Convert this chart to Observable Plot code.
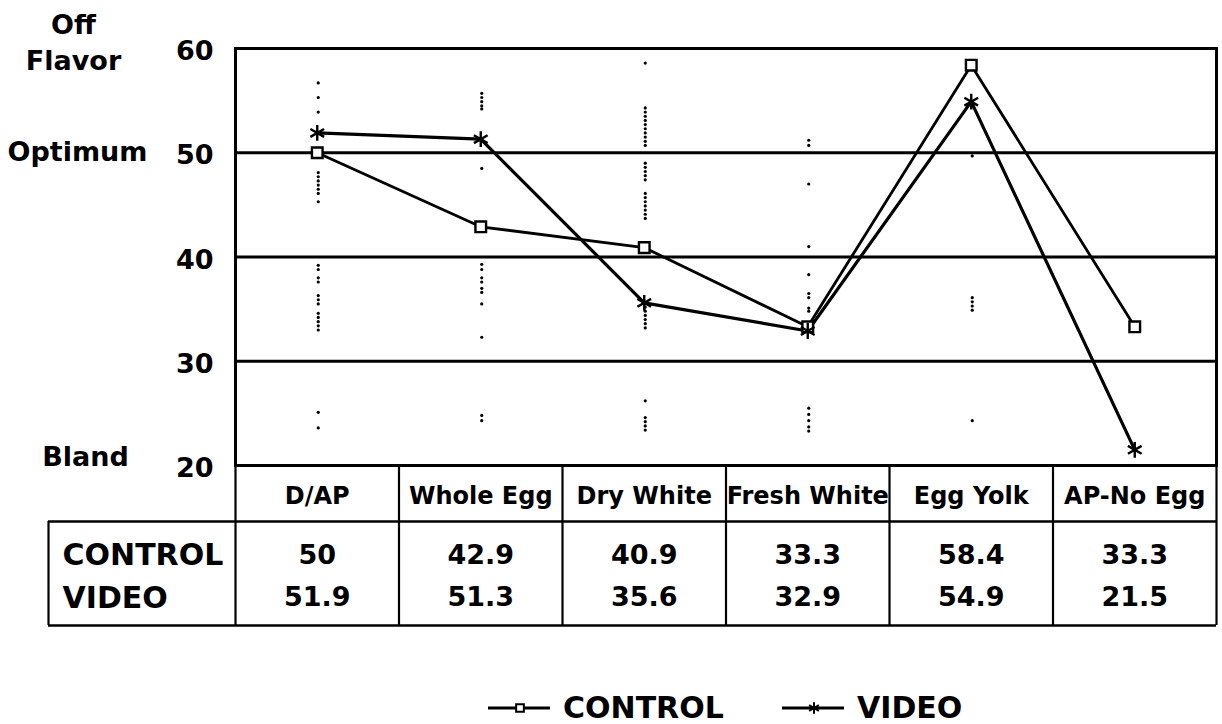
<!DOCTYPE html>
<html>
<head>
<meta charset="utf-8">
<script src="https://cdn.jsdelivr.net/npm/d3@7"></script>
<script src="https://cdn.jsdelivr.net/npm/@observablehq/plot@0.6"></script>
<style>
  html, body { margin: 0; padding: 0; background: #fff; }
  #chart { position: relative; width: 1222px; height: 724px; font-family: "DejaVu Sans", sans-serif; }
  #chart svg.plot, #chart > svg { position: absolute; left: 0; top: 0; }
  .legend-item { position: absolute; top: 693px; height: 30px; display: flex; align-items: center; }
  .legend-item svg { display: block; }
  .legend-item span { font: bold 30px "DejaVu Sans", sans-serif; line-height: 30px; margin-left: 13px; color: #000; }
</style>
</head>
<body>
<div id="chart"></div>
<script>
// ---------- data ----------
const categories = ["D/AP", "Whole Egg", "Dry White", "Fresh White", "Egg Yolk", "AP-No Egg"];
const controlValues = [50, 42.9, 40.9, 33.3, 58.4, 33.3];
const videoValues = [51.9, 51.3, 35.6, 32.9, 54.9, 21.5];
const seriesNames = ["CONTROL", "VIDEO"];
const seriesSymbols = ["square", "asterisk"];
const yTicks = [20, 30, 40, 50, 60];
const gridValues = [30, 40, 50];
const scaleWords = ["Off\nFlavor", "Optimum", "Bland"];
const scaleWordValues = [60, 50, 20];

// individual panel ratings (small dotted marks)
const scoresDAP = [56.7, 55.3, 53.9, 48.1, 47.7, 47.3, 46.9, 46.5, 46.1, 45.3, 39.2, 38.8, 38.0, 37.6, 36.3, 35.9, 35.5, 34.6, 34.2, 33.8, 33.4, 33.0, 25.1, 23.6];
const scoresWholeEgg = [55.7, 55.3, 54.9, 54.5, 54.2, 48.5, 39.3, 38.8, 38.0, 37.6, 37.0, 36.6, 35.5, 32.3, 24.8, 24.3];
const scoresDryWhite = [58.6, 54.3, 53.9, 53.5, 53.1, 52.7, 52.3, 51.9, 51.5, 51.1, 50.7, 49.0, 48.6, 48.2, 47.8, 47.4, 46.1, 45.7, 45.3, 44.9, 44.5, 44.1, 43.7, 35.2, 34.8, 34.4, 34.0, 33.6, 33.2, 26.2, 24.6, 24.2, 23.8, 23.4];
const scoresFreshWhite = [51.2, 50.7, 47.0, 41.0, 38.3, 36.5, 36.1, 35.1, 34.8, 25.5, 24.9, 24.3, 23.7, 23.3];
const scoresEggYolk = [49.7, 36.1, 35.7, 35.3, 34.9, 24.3];
const scoresNoEgg = [];

// ---------- layout ----------
const W = 1222, H = 650;
const frameLeft = 235, frameRight = 1216, frameTop = 48, frameBottom = 465;
const xPix = d3.scaleLinear([-0.5, categories.length - 0.5], [frameLeft, frameRight]);
const yPix = d3.scaleLinear([20, 60], [frameBottom, frameTop]);
const tableLeftX = xPix.invert(48);
const catRowBottomY = yPix.invert(521);
const tableBottomY = yPix.invert(625);

const FONT = "DejaVu Sans";
const bold = {fontWeight: "bold", fontFamily: FONT, fill: "black"};

const bounds = d3.range(categories.length + 1).map(i => i - 0.5);
const allScores = [scoresDAP, scoresWholeEgg, scoresDryWhite, scoresFreshWhite, scoresEggYolk, scoresNoEgg]
  .flatMap((arr, i) => arr.map(v => ({i, v})));
const controlPts = controlValues.map((v, i) => ({i, v}));
const videoPts = videoValues.map((v, i) => ({i, v}));

const plot = Plot.plot({
  width: W,
  height: H,
  marginLeft: frameLeft,
  marginRight: W - frameRight,
  marginTop: frameTop,
  marginBottom: H - frameBottom,
  x: {domain: [-0.5, categories.length - 0.5], range: [frameLeft, frameRight], axis: null},
  y: {domain: [20, 60], range: [frameBottom, frameTop], axis: null},
  style: {background: "white", color: "black", fontFamily: FONT, overflow: "visible"},
  marks: [
    // grid lines and frame
    Plot.ruleY(gridValues, {stroke: "black", strokeWidth: 3}),
    Plot.frame({stroke: "black", strokeWidth: 3}),

    // individual ratings
    Plot.dot(allScores, {x: "i", y: "v", r: 1.6, fill: "black", stroke: "none", dx: 1}),

    // series lines
    Plot.line(controlPts, {x: "i", y: "v", stroke: "black", strokeWidth: 2.8}),
    Plot.line(videoPts, {x: "i", y: "v", stroke: "black", strokeWidth: 3.2}),
    Plot.dot(controlPts, {x: "i", y: "v", symbol: "square", r: 6, fill: "white", stroke: "black", strokeWidth: 2.4}),
    Plot.dot(videoPts, {x: "i", y: "v", symbol: "asterisk", r: 7.5, stroke: "black", strokeWidth: 2.4}),

    // y tick labels
    Plot.text(yTicks, {y: d => d, text: d => String(d), frameAnchor: "left", textAnchor: "end", dx: -22, dy: 3,
      fontSize: 27, ...bold}),

    // scale words
    Plot.text([scaleWords[0]], {y: () => scaleWordValues[0], text: d => d, frameAnchor: "left", textAnchor: "middle",
      dx: -162, dy: -8, lineHeight: 1.33, fontSize: 27, ...bold}),
    Plot.text([scaleWords[1]], {y: () => scaleWordValues[1], text: d => d, frameAnchor: "left", textAnchor: "middle",
      dx: -158, dy: 0, fontSize: 27, ...bold}),
    Plot.text([scaleWords[2]], {y: () => scaleWordValues[2], text: d => d, frameAnchor: "left", textAnchor: "middle",
      dx: -150, dy: -8, fontSize: 27, ...bold}),

    // category row
    Plot.ruleX(bounds, {y1: 20, y2: catRowBottomY, stroke: "black", strokeWidth: 2.2}),
    Plot.text(categories, {x: (d, i) => i, y: () => 20, dy: 31, text: d => d, fontSize: 24, ...bold}),

    // value table
    Plot.ruleY([catRowBottomY, tableBottomY], {x1: tableLeftX, x2: categories.length - 0.5, stroke: "black", strokeWidth: 2.4}),
    Plot.ruleX([tableLeftX, ...bounds], {y1: catRowBottomY, y2: tableBottomY, stroke: "black", strokeWidth: 2.2}),
    Plot.text(controlValues, {x: (d, i) => i, y: () => 20, dy: 90, text: d => String(d), fontSize: 27, ...bold}),
    Plot.text(videoValues, {x: (d, i) => i, y: () => 20, dy: 132, text: d => String(d), fontSize: 27, ...bold}),
    Plot.text([seriesNames[0]], {x: () => tableLeftX, y: () => 20, dy: 90, dx: 14, text: d => d,
      textAnchor: "start", fontSize: 30, ...bold}),
    Plot.text([seriesNames[1]], {x: () => tableLeftX, y: () => 20, dy: 133, dx: 14, text: d => d,
      textAnchor: "start", fontSize: 30, ...bold}),
  ]
});

const chart = document.getElementById("chart");
chart.appendChild(plot);

// ---------- legend (HTML, below the SVG) ----------
const legendLeft = [488, 782];
seriesNames.forEach((name, k) => {
  const item = document.createElement("div");
  item.className = "legend-item";
  item.style.left = legendLeft[k] + "px";
  const ns = "http://www.w3.org/2000/svg";
  const svg = document.createElementNS(ns, "svg");
  svg.setAttribute("width", 62);
  svg.setAttribute("height", 30);
  const line = document.createElementNS(ns, "line");
  line.setAttribute("x1", 0); line.setAttribute("x2", 62);
  line.setAttribute("y1", 15); line.setAttribute("y2", 15);
  line.setAttribute("stroke", "black"); line.setAttribute("stroke-width", 3);
  svg.appendChild(line);
  const sym = document.createElementNS(ns, "path");
  const symType = seriesSymbols[k] === "square" ? d3.symbolSquare : d3.symbolAsterisk;
  sym.setAttribute("d", d3.symbol(symType, seriesSymbols[k] === "square" ? 60 : 90)());
  sym.setAttribute("transform", "translate(32,15)");
  sym.setAttribute("fill", "white");
  sym.setAttribute("stroke", "black");
  sym.setAttribute("stroke-width", 2);
  svg.appendChild(sym);
  item.appendChild(svg);
  const label = document.createElement("span");
  label.textContent = name;
  item.appendChild(label);
  chart.appendChild(item);
});
</script>
</body>
</html>
